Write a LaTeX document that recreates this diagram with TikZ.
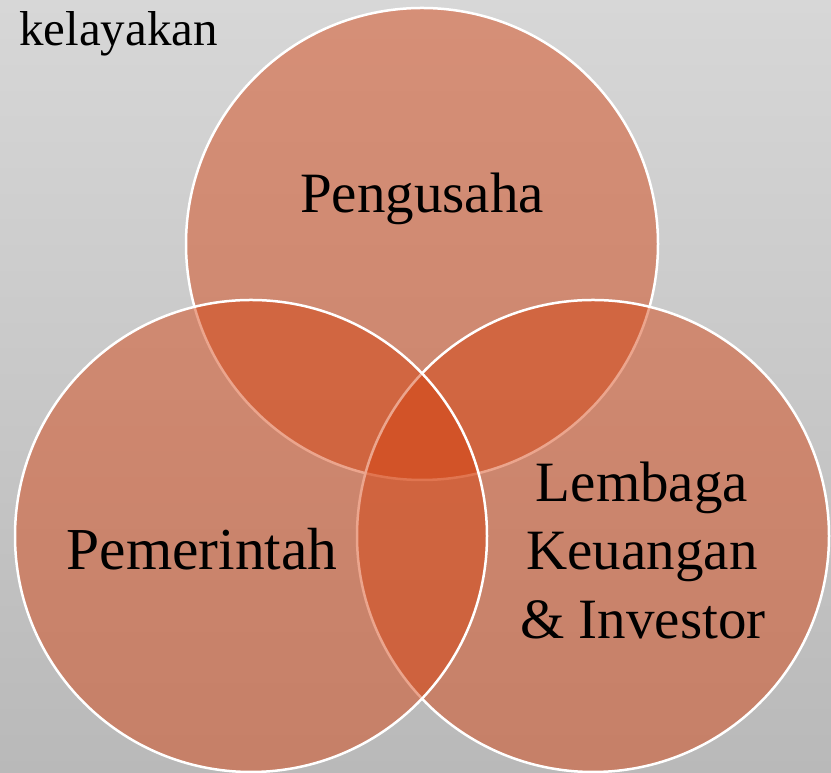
\documentclass[tikz,border=0pt]{standalone}
\usepackage{fontspec}
\setmainfont{Liberation Serif}
\definecolor{bgtop}{HTML}{D7D7D7}
\definecolor{bgmid}{HTML}{DFDFDF}
\definecolor{bgbot}{HTML}{B9B9B9}
\definecolor{venn}{RGB}{213,64,13}
\tikzset{
  venncircle/.style={fill=venn, fill opacity=0.47, draw=white, draw opacity=1, line width=2.5pt},
  bigtext/.style={font=\fontsize{57}{68.7}\selectfont, text=black, inner sep=0pt, anchor=base},
  titletext/.style={font=\fontsize{49}{58}\selectfont, text=black, inner sep=0pt, anchor=base west}
}
\begin{document}
\begin{tikzpicture}[x=1pt,y=1pt]
  \useasboundingbox (0,0) rectangle (831,773);
  \shade[top color=bgtop, middle color=bgmid, bottom color=bgbot] (0,0) rectangle (831,773);
  \node[titletext] (title) at (19,727) {kelayakan};
  \path[venncircle] (422,529) circle (236);
  \path[venncircle] (593,237) circle (236);
  \path[venncircle] (251,237) circle (236);
  \node[bigtext] (peng) at (422,560) {Pengusaha};
  \node[bigtext, font=\fontsize{59.5}{70}\selectfont] (pem) at (202,203) {Pemerintah};
  \node[bigtext] (lem1) at (642,271) {Lembaga};
  \node[bigtext] (lem2) at (642,203) {Keuangan};
  \node[bigtext] (lem3) at (643,134) {\& Investor};
\end{tikzpicture}
\end{document}
